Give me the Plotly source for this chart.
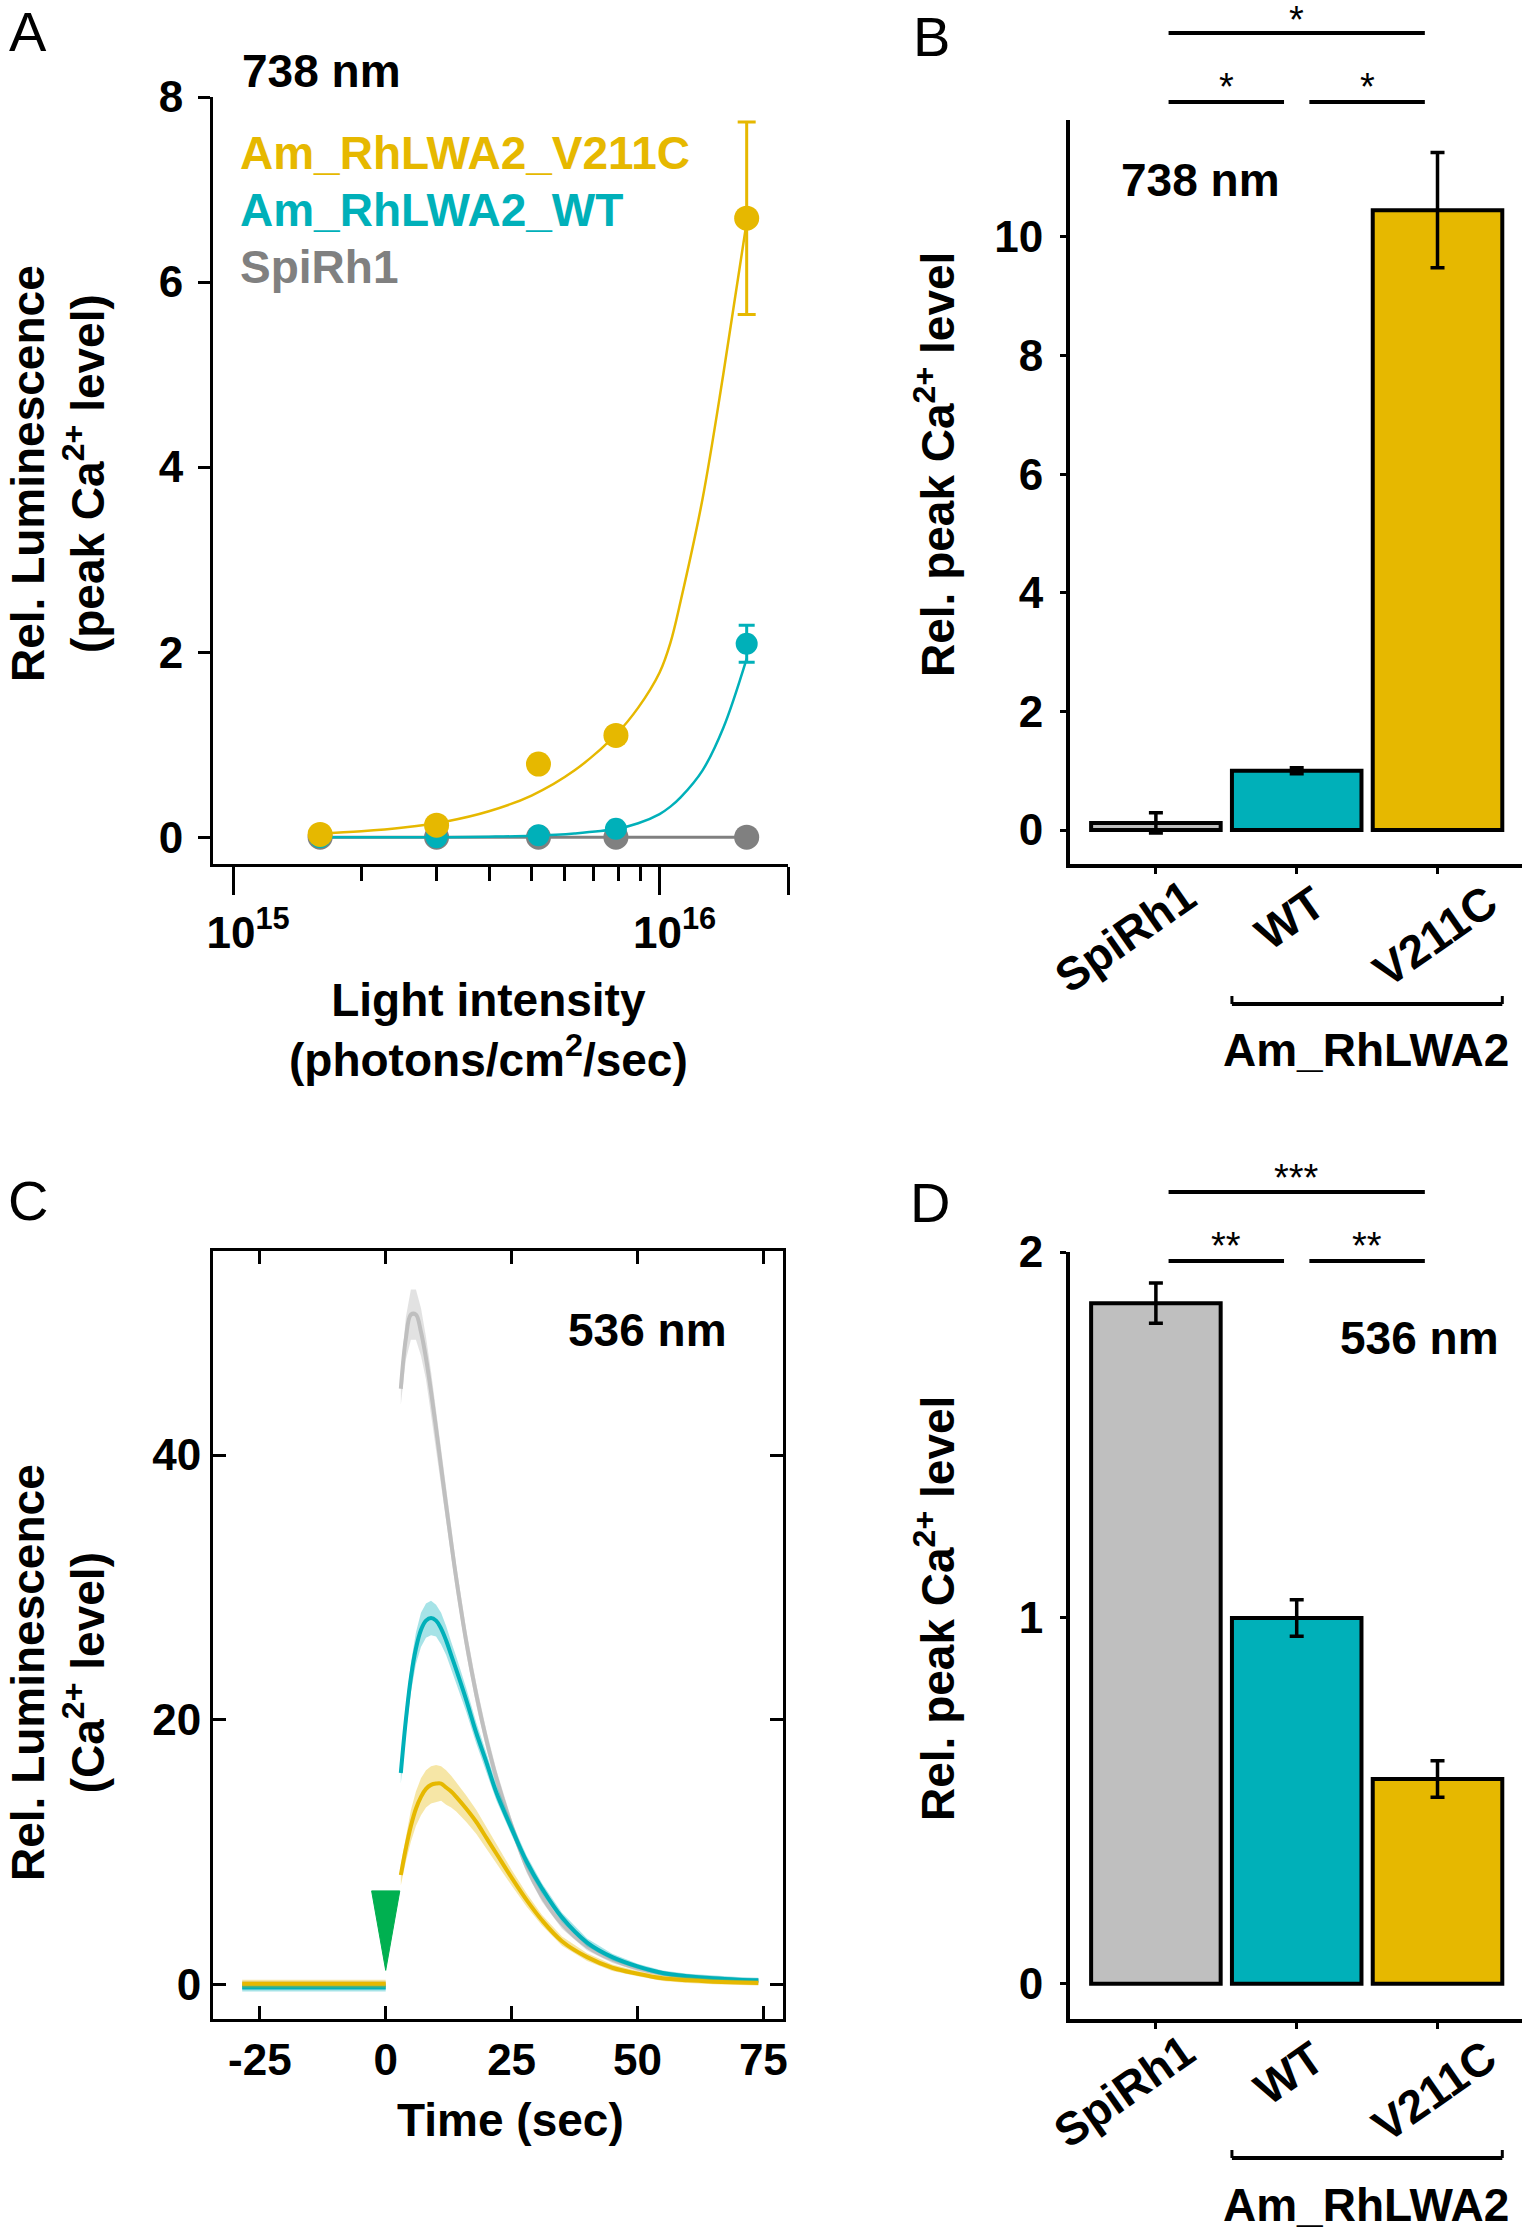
import plotly.graph_objects as go

W, H = 1524, 2231
FONT = "Arial, Liberation Sans, sans-serif"

YELLOW = "#E6B800"
TEAL = "#00B0B9"
GRAY_DARK = "#808080"
GRAY_LIGHT = "#BFBFBF"
GREEN = "#00B050"

# ---------------- Panel A data ----------------
intensity = [1.6e15, 3.0e15, 5.2e15, 7.9e15, 1.6e16]
a_v211c = [0.03, 0.13, 0.79, 1.10, 6.69]
a_v211c_err = [0.04, 0.05, 0.07, 0.08, 1.04]
a_wt = [0.0, 0.0, 0.02, 0.09, 2.09]
a_wt_err = [0.02, 0.02, 0.03, 0.04, 0.20]
a_spi = [0.0, 0.0, 0.0, 0.0, 0.0]

fit_x = [1.585e15, 2.0e15, 2.51e15, 3.16e15, 3.98e15, 5.01e15, 6.31e15, 7.94e15,
         8.91e15, 1.0e16, 1.06e16, 1.12e16, 1.26e16, 1.41e16, 1.6e16]
fit_v211c = [0.04, 0.065, 0.105, 0.17, 0.28, 0.45, 0.72, 1.12, 1.40, 1.78, 2.10, 2.55, 3.65, 5.00, 6.65]
fit_wt = [0.0, 0.0, 0.0, 0.0, 0.005, 0.015, 0.04, 0.09, 0.15, 0.25, 0.33, 0.43, 0.72, 1.18, 1.93]

# ---------------- Panel B data ----------------
groups = ["SpiRh1", "WT", "V211C"]
b_peak = [0.12, 1.0, 10.45]
b_err = [0.17, 0.05, 0.97]
b_sig = ["*", "*", "*"]          # (0,1), (1,2), (0,2)

# ---------------- Panel C data ----------------
t_pre = [-28.5, -20, -10, 0]
c_pre_v211c = [0.1, 0.1, 0.1, 0.1]
c_pre_wt = [-0.2, -0.2, -0.2, -0.2]
c_pre_spi = [0.0, 0.0, 0.0, 0.0]
c_pre_err = [0.3, 0.3, 0.3, 0.3]

t_post = [3, 4, 5, 6, 7, 8, 9, 10, 11, 12, 13, 14, 16, 18, 20, 22, 25, 28, 31, 35,
          40, 45, 50, 55, 60, 65, 70, 74]
c_spi = [45.0, 48.8, 50.6, 50.6, 49.3, 47.3, 44.8, 42.0, 39.1, 36.2, 33.4, 30.7, 25.9,
         21.9, 18.5, 15.6, 12.0, 8.9, 6.7, 4.6, 2.9, 1.9, 1.25, 0.85, 0.6, 0.45, 0.35, 0.3]
c_spi_err = [1.2, 1.6, 1.9, 1.9, 1.8, 1.6, 1.5, 1.3, 1.2, 1.1, 1.0, 1.0, 0.9,
             0.8, 0.7, 0.6, 0.5, 0.45, 0.4, 0.35, 0.3, 0.25, 0.2, 0.2, 0.2, 0.2, 0.2, 0.2]
c_wt = [16.0, 20.0, 23.2, 25.4, 26.8, 27.5, 27.7, 27.5, 26.9, 26.0, 24.9, 23.8, 21.5,
        19.0, 16.8, 14.5, 11.8, 9.3, 7.3, 5.1, 3.2, 2.1, 1.4, 0.9, 0.65, 0.5, 0.4, 0.35]
c_wt_err = [0.8, 1.0, 1.1, 1.2, 1.3, 1.3, 1.3, 1.2, 1.2, 1.1, 1.0, 1.0, 0.9,
            0.8, 0.7, 0.6, 0.5, 0.45, 0.4, 0.35, 0.3, 0.25, 0.2, 0.2, 0.2, 0.2, 0.2, 0.2]
c_v211c = [8.3, 10.3, 12.0, 13.3, 14.2, 14.8, 15.1, 15.2, 15.2, 14.9, 14.6, 14.2, 13.3,
           12.3, 11.1, 9.9, 8.1, 6.4, 4.9, 3.3, 2.1, 1.3, 0.85, 0.5, 0.35, 0.25, 0.18, 0.15]
c_v211c_err = [0.8, 1.0, 1.2, 1.3, 1.4, 1.4, 1.4, 1.4, 1.3, 1.3, 1.2, 1.1, 1.0,
               0.9, 0.8, 0.7, 0.6, 0.5, 0.4, 0.35, 0.3, 0.25, 0.2, 0.2, 0.2, 0.2, 0.2, 0.2]
c_xticks = [-25, 0, 25, 50, 75]
c_xticklabels = ["-25", "0", "25", "50", "75"]
stim_time = 0.0

# ---------------- Panel D data ----------------
d_peak = [1.86, 1.0, 0.56]
d_err = [0.055, 0.05, 0.05]
d_sig = ["**", "**", "***"]      # (0,1), (1,2), (0,2)


def px_x(px):
    return px / W


def px_y(py):
    return 1 - py / H


fig = go.Figure()

# ---------- Panel A traces ----------
fig.add_trace(go.Scatter(x=intensity, y=a_spi, mode="lines+markers",
                         line=dict(color=GRAY_DARK, width=3),
                         marker=dict(size=25, color=GRAY_DARK),
                         xaxis="x", yaxis="y", showlegend=False))
fig.add_trace(go.Scatter(x=fit_x, y=fit_wt, mode="lines",
                         line=dict(color=TEAL, width=2.5, shape="spline"),
                         xaxis="x", yaxis="y", showlegend=False))
fig.add_trace(go.Scatter(x=intensity, y=a_wt, mode="markers",
                         marker=dict(size=22, color=TEAL),
                         error_y=dict(type="data", array=a_wt_err, color=TEAL, thickness=3, width=8),
                         xaxis="x", yaxis="y", showlegend=False))
fig.add_trace(go.Scatter(x=fit_x, y=fit_v211c, mode="lines",
                         line=dict(color=YELLOW, width=2.5, shape="spline"),
                         xaxis="x", yaxis="y", showlegend=False))
fig.add_trace(go.Scatter(x=intensity, y=a_v211c, mode="markers",
                         marker=dict(size=25, color=YELLOW),
                         error_y=dict(type="data", array=a_v211c_err, color=YELLOW, thickness=3, width=9),
                         xaxis="x", yaxis="y", showlegend=False))

# ---------- Panel B bars ----------
fig.add_trace(go.Bar(x=list(range(len(groups))), y=b_peak, width=0.92,
                     marker=dict(color=[GRAY_LIGHT, TEAL, YELLOW], line=dict(color="black", width=4)),
                     error_y=dict(type="data", array=b_err, color="black", thickness=3.5, width=7),
                     xaxis="x2", yaxis="y2", showlegend=False))


# ---------- Panel C traces ----------
def band(t, y, e, color, fillcolor):
    up = [a + b for a, b in zip(y, e)]
    lo = [a - b for a, b in zip(y, e)]
    fig.add_trace(go.Scatter(x=list(t) + list(t)[::-1], y=up + lo[::-1], fill="toself",
                             fillcolor=fillcolor, line=dict(width=0), mode="lines",
                             xaxis="x3", yaxis="y3", showlegend=False, hoverinfo="skip"))
    fig.add_trace(go.Scatter(x=t, y=y, mode="lines", line=dict(color=color, width=4, shape="spline"),
                             xaxis="x3", yaxis="y3", showlegend=False))


band(t_pre, c_pre_spi, c_pre_err, GRAY_LIGHT, "rgba(191,191,191,0.45)")
band(t_pre, c_pre_wt, c_pre_err, TEAL, "rgba(0,176,185,0.35)")
band(t_pre, c_pre_v211c, c_pre_err, YELLOW, "rgba(230,184,0,0.35)")
band(t_post, c_spi, c_spi_err, GRAY_LIGHT, "rgba(191,191,191,0.45)")
band(t_post, c_wt, c_wt_err, TEAL, "rgba(0,176,185,0.35)")
band(t_post, c_v211c, c_v211c_err, YELLOW, "rgba(230,184,0,0.35)")

# stimulus marker (green narrow triangle pointing down at stimulus time)
tri_half_w, tri_top, tri_tip = 2.8, 7.1, 1.1
fig.add_trace(go.Scatter(x=[stim_time - tri_half_w, stim_time + tri_half_w, stim_time, stim_time - tri_half_w],
                         y=[tri_top, tri_top, tri_tip, tri_top], fill="toself", fillcolor=GREEN,
                         line=dict(color=GREEN, width=1), mode="lines",
                         xaxis="x3", yaxis="y3", showlegend=False))

# ---------- Panel D bars ----------
fig.add_trace(go.Bar(x=list(range(len(groups))), y=d_peak, width=0.92,
                     marker=dict(color=[GRAY_LIGHT, TEAL, YELLOW], line=dict(color="black", width=4)),
                     error_y=dict(type="data", array=d_err, color="black", thickness=3.5, width=7),
                     xaxis="x4", yaxis="y4", showlegend=False))

tickfont = dict(family=FONT, size=44, color="black", weight="bold")
common = dict(showline=True, linecolor="black", zeroline=False, showgrid=False,
              tickcolor="black", tickfont=tickfont, automargin=False)

layout_axes = dict(
    xaxis=dict(domain=[px_x(213), px_x(788)], anchor="y", type="log", range=[14.953, 16.301],
               tickvals=[1e15, 1e16, 2e16], ticktext=["10<sup>15</sup>", "10<sup>16</sup>", ""],
               ticks="outside", ticklen=28, tickwidth=3, linewidth=3, ticklabelshift=15,
               minor=dict(tickvals=[2e15, 3e15, 4e15, 5e15, 6e15, 7e15, 8e15, 9e15],
                          ticks="outside", ticklen=14, tickwidth=3, tickcolor="black", showgrid=False),
               **common),
    yaxis=dict(domain=[px_y(864), px_y(97)], anchor="x", range=[-0.29, 8],
               tickvals=[0, 2, 4, 6, 8], ticks="outside", ticklen=12, tickwidth=3, linewidth=3,
               ticklabelstandoff=6, **common),
    xaxis2=dict(domain=[px_x(1070), px_x(1522)], anchor="y2", range=[-0.61, 2.6],
                tickvals=[0, 1, 2], ticktext=["", "", ""], ticks="outside", ticklen=6, tickwidth=3,
                linewidth=4, **common),
    yaxis2=dict(domain=[px_y(864), px_y(120)], anchor="x2", range=[-0.573, 11.97],
                tickvals=[0, 2, 4, 6, 8, 10], ticks="outside", ticklen=6, tickwidth=3, linewidth=4,
                ticklabelstandoff=8, **common),
    xaxis3=dict(domain=[px_x(213), px_x(783)], anchor="y3", range=[-34.3, 78.9],
                tickvals=c_xticks, ticktext=c_xticklabels, ticks="inside", ticklen=13, tickwidth=3,
                linewidth=3, mirror="ticks", **common),
    yaxis3=dict(domain=[px_y(2019), px_y(1251)], anchor="x3", range=[-2.57, 55.4],
                tickvals=[0, 20, 40], ticks="inside", ticklen=13, tickwidth=3, linewidth=3,
                mirror="ticks", **common),
    xaxis4=dict(domain=[px_x(1070), px_x(1522)], anchor="y4", range=[-0.61, 2.6],
                tickvals=[0, 1, 2], ticktext=["", "", ""], ticks="outside", ticklen=6, tickwidth=3,
                linewidth=4, **common),
    yaxis4=dict(domain=[px_y(2019), px_y(1252)], anchor="x4", range=[-0.096, 2.0],
                tickvals=[0, 1, 2], ticks="outside", ticklen=6, tickwidth=3, linewidth=4,
                ticklabelstandoff=8, **common),
)

annotations = []


def ann(text, px, py, size=46, bold=True, angle=0, xanchor="center", color="black", yanchor="middle"):
    annotations.append(dict(text=text, x=px_x(px), y=px_y(py), xref="paper", yref="paper",
                            showarrow=False, textangle=angle, xanchor=xanchor, yanchor=yanchor,
                            font=dict(family=FONT, size=size, color=color,
                                      weight="bold" if bold else "normal")))


# panel letters
ann("A", 28, 31, size=56, bold=False)
ann("B", 932, 36, size=56, bold=False)
ann("C", 28, 1200, size=56, bold=False)
ann("D", 930, 1202, size=56, bold=False)

# Panel A texts
ann("738 nm", 321, 71)
ann("Am_RhLWA2_V211C", 238, 153, color=YELLOW, xanchor="left")
ann("Am_RhLWA2_WT", 238, 210, color=TEAL, xanchor="left")
ann("SpiRh1", 238, 267, color=GRAY_DARK, xanchor="left")
ann("Rel. Luminescence<br>(peak Ca<sup>2+</sup> level)", 58, 474, angle=-90)
ann("Light intensity<br>(photons/cm<sup>2</sup>/sec)", 488, 1030)

# Panel B texts
ann("738 nm", 1200, 180)
ann("Rel. peak Ca<sup>2+</sup> level", 935, 464, angle=-90)
ann("Am_RhLWA2", 1366, 1050)

# Panel C texts
ann("536 nm", 647, 1330)
ann("Rel. Luminescence<br>(Ca<sup>2+</sup> level)", 58, 1673, angle=-90)
ann("Time (sec)", 511, 2120)

# Panel D texts
ann("536 nm", 1419, 1338)
ann("Rel. peak Ca<sup>2+</sup> level", 935, 1608, angle=-90)
ann("Am_RhLWA2", 1366, 2205)

# rotated category labels (B and D)
b_label_pos = [(1125, 936), (1290, 918), (1435, 936)]
for name, (lx, ly) in zip(groups, b_label_pos):
    ann(name, lx, ly, angle=-35)
    ann(name, lx - 1, ly + 1155, angle=-35)

shapes = []


def sig(xref, pairs, labels, y_low, y_high, star_low, star_high):
    for (i, j), lab in zip(pairs, labels):
        top = (i == 0 and j == 2)
        ly = y_high if top else y_low
        shapes.append(dict(type="line", xref=xref, yref="paper", x0=i + 0.09, x1=j - 0.09,
                           y0=px_y(ly), y1=px_y(ly), line=dict(color="black", width=4)))
        annotations.append(dict(text=lab, x=(i + j) / 2, xref=xref, y=px_y(star_high if top else star_low),
                                yref="paper", showarrow=False, xanchor="center", yanchor="middle",
                                font=dict(family=FONT, size=38, color="black")))


pairs = [(0, 1), (1, 2), (0, 2)]
sig("x2", pairs, b_sig, 102, 33, 87, 20)
sig("x4", pairs, d_sig, 1261, 1192, 1246, 1178)


def bracket(xref, py):
    x0, x1 = 0.54, 2.46
    shapes.append(dict(type="line", xref=xref, yref="paper", x0=x0, x1=x1, y0=px_y(py), y1=px_y(py),
                       line=dict(color="black", width=4)))
    for xx in (x0, x1):
        shapes.append(dict(type="line", xref=xref, yref="paper", x0=xx, x1=xx,
                           y0=px_y(py), y1=px_y(py - 8), line=dict(color="black", width=3)))


bracket("x2", 1004)
bracket("x4", 2158)

fig.update_layout(width=W, height=H, margin=dict(l=0, r=0, t=0, b=0, autoexpand=False),
                  plot_bgcolor="white", paper_bgcolor="white", showlegend=False,
                  annotations=annotations, shapes=shapes, **layout_axes)

fig.write_html("out.html")
